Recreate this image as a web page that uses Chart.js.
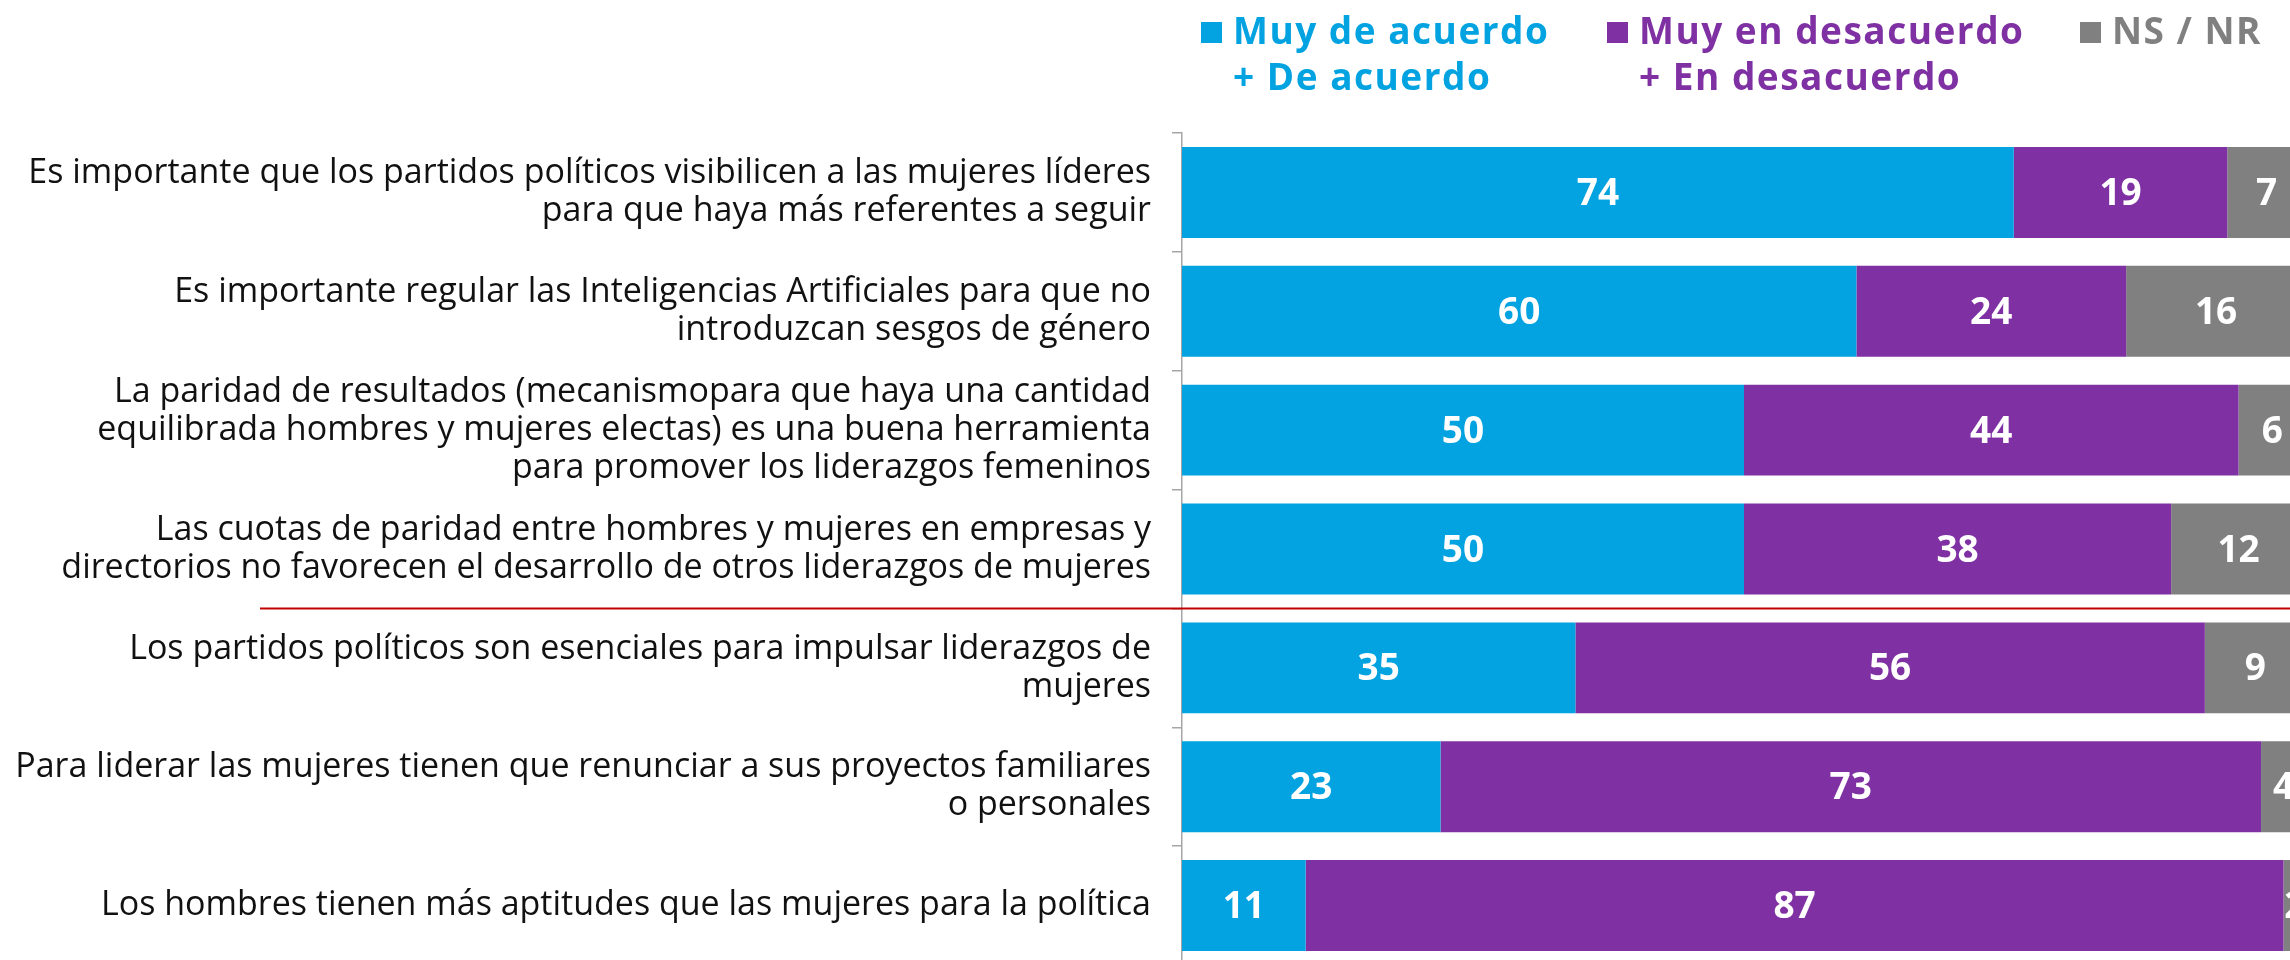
<!DOCTYPE html>
<html lang="es">
<head>
<meta charset="utf-8">
<title>Liderazgos de mujeres</title>
<script src="https://cdn.jsdelivr.net/npm/chart.js@4.4.1/dist/chart.umd.min.js"></script>
<style>
    html, body { margin: 0; padding: 0; background: #fff; overflow: hidden; }
    #wrap { position: relative; width: 2290px; height: 960px; overflow: hidden; }
    #opinionChart { position: absolute; left: 0; top: 0; }
</style>
</head>
<body>
<div id="wrap">
    <canvas id="opinionChart" width="2306" height="965"></canvas>
</div>
<script>
// Statements (multi-line labels)
const statements = [
    ['Es importante que los partidos políticos visibilicen a las mujeres líderes', 'para que haya más referentes a seguir'],
    ['Es importante regular las Inteligencias Artificiales para que no', 'introduzcan sesgos de género'],
    ['La paridad de resultados (mecanismopara que haya una cantidad', 'equilibrada hombres y mujeres electas) es una buena herramienta', 'para promover los liderazgos femeninos'],
    ['Las cuotas de paridad entre hombres y mujeres en empresas y', 'directorios no favorecen el desarrollo de otros liderazgos de mujeres'],
    ['Los partidos políticos son esenciales para impulsar liderazgos de', 'mujeres'],
    ['Para liderar las mujeres tienen que renunciar a sus proyectos familiares', 'o personales'],
    ['Los hombres tienen más aptitudes que las mujeres para la política']
];

// Series values (%)
const deAcuerdo = [74, 60, 50, 50, 35, 23, 11];
const enDesacuerdo = [19, 24, 44, 38, 56, 73, 87];
const nsNr = [7, 16, 6, 12, 9, 4, 2];

// Legend texts
const legendAcuerdo = ['Muy de acuerdo', '+ De acuerdo'];
const legendDesacuerdo = ['Muy en desacuerdo', '+ En desacuerdo'];
const legendNsNr = ['NS / NR'];

const BLUE = '#02a3e0';
const PURPLE = '#7f30a3';
const GRAY = '#808080';

// White value labels in the middle of each segment
const valueLabels = {
    id: 'valueLabels',
    afterDatasetsDraw(chart) {
        const ctx = chart.ctx;
        ctx.save();
        ctx.fillStyle = '#ffffff';
        ctx.font = '700 37px "Open Sans"';
        ctx.textAlign = 'center';
        ctx.textBaseline = 'middle';
        chart.data.datasets.forEach(function(ds, i) {
            const meta = chart.getDatasetMeta(i);
            meta.data.forEach(function(bar, j) {
                const cx = (bar.x + bar.base) / 2;
                ctx.fillText(String(ds.data[j]), cx, bar.y + 2);
            });
        });
        ctx.restore();
    }
};

// Red separator between the 4th and 5th statement
const separator = {
    id: 'separator',
    afterDraw(chart) {
        const y = chart.scales.y;
        const py = (y.getPixelForValue(3) + y.getPixelForValue(4)) / 2;
        const ctx = chart.ctx;
        ctx.save();
        ctx.strokeStyle = '#c00000';
        ctx.lineWidth = 2;
        ctx.beginPath();
        ctx.moveTo(260, py);
        ctx.lineTo(chart.width, py);
        ctx.stroke();
        ctx.restore();
    }
};

// Legend at the top right, two-line coloured labels
const topLegend = {
    id: 'topLegend',
    afterDraw(chart) {
        const ctx = chart.ctx;
        const items = [
            { x: 1201, lines: legendAcuerdo, color: BLUE },
            { x: 1607, lines: legendDesacuerdo, color: PURPLE },
            { x: 2080, lines: legendNsNr, color: GRAY }
        ];
        ctx.save();
        ctx.font = '700 37px "Open Sans"';
        ctx.letterSpacing = '1.5px';
        ctx.textAlign = 'left';
        ctx.textBaseline = 'alphabetic';
        items.forEach(function(item) {
            ctx.fillStyle = item.color;
            ctx.fillRect(item.x, 22, 21, 21);
            item.lines.forEach(function(line, k) {
                ctx.fillText(line, item.x + 32, 44 + k * 46);
            });
        });
        ctx.restore();
    }
};

const ctx = document.getElementById('opinionChart').getContext('2d');
window.opinionChart = new Chart(ctx, {
    type: 'bar',
    data: {
        labels: statements,
        datasets: [
            { label: 'Muy de acuerdo + De acuerdo', data: deAcuerdo, backgroundColor: BLUE },
            { label: 'Muy en desacuerdo + En desacuerdo', data: enDesacuerdo, backgroundColor: PURPLE },
            { label: 'NS / NR', data: nsNr, backgroundColor: GRAY }
        ]
    },
    options: {
        indexAxis: 'y',
        responsive: false,
        animation: false,
        layout: { padding: { top: 133, left: 0, right: 0, bottom: 0 } },
        datasets: {
            bar: { categoryPercentage: 1, barPercentage: 0.765, borderWidth: 0 }
        },
        scales: {
            x: {
                stacked: true,
                min: 0,
                max: 100,
                display: false
            },
            y: {
                stacked: true,
                afterFit: function(scale) {
                    // fixed axis width, and no extra room for the tall labels
                    scale.width = 1182;
                    scale.paddingTop = 0;
                    scale.paddingBottom = 0;
                },
                border: { display: true, color: '#a6a6a6', width: 1.5 },
                grid: {
                    drawOnChartArea: false,
                    drawTicks: true,
                    tickLength: 10,
                    color: '#a6a6a6',
                    lineWidth: 1.5
                },
                ticks: {
                    color: '#111111',
                    padding: 21,
                    font: { family: '"Open Sans"', size: 34, lineHeight: 1.12 }
                }
            }
        },
        plugins: {
            legend: { display: false },
            tooltip: { enabled: false }
        }
    },
    plugins: [valueLabels, separator, topLegend]
});
</script>
</body>
</html>
